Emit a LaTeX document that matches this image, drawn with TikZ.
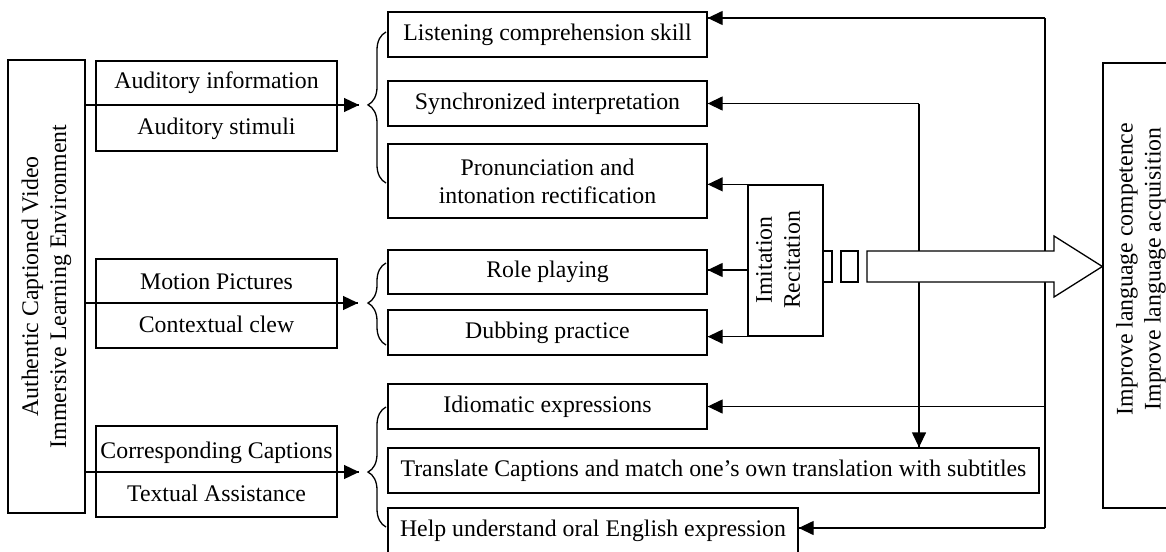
\documentclass[tikz,border=0pt]{standalone}
\usepackage{fontspec}
\setmainfont{Liberation Serif}
\usepackage{tikz}
\usetikzlibrary{calc}
\usetikzlibrary{arrows.meta}
\usetikzlibrary{decorations.markings}
\usetikzlibrary{decorations.pathreplacing}
\newcommand{\dgfont}{\fontsize{23.8}{28}\selectfont}
\tikzset{
  line/.style={line width=1.3pt},
  box/.style={draw, line, fill=white, inner sep=0pt, align=center, font=\dgfont},
  label/.style={inner sep=0pt, align=center, font=\dgfont},
  arr/.style={line, postaction={decorate, decoration={
    markings,
    mark=at position 1 with {\arrow{Triangle[length=15pt,width=14pt]}}}}},
  cbrace/.style={line, decorate, decoration={brace, amplitude=18pt, aspect=#1}},
  cbrace/.default=0.5,
}

\begin{document}
\begin{tikzpicture}[x=1pt,y=-1pt]
\useasboundingbox (0,0) rectangle (1166,551);

%%%%%%%%%%%%%%%%%%%%%%%%%%%%%%%%%%%%%%%%%%%%%%%%%%%%%%%%%%%%%% Source
\node[box, minimum width=77, minimum height=453] (env) at (46.5,286.5) {};
\node[label, rotate=90] (envtext) at (env) {Authentic Captioned Video\\Immersive Learning Environment};

%%%%%%%%%%%%%%%%%%%%%%%%%%%%%%%%%%%%%%%%%%%%%%%%%%%%%%%%%%%%%% Channels
\node[box, minimum width=241, minimum height=90] (aud) at (216.5,106) {Auditory information\\[18pt]Auditory stimuli};
\node[box, minimum width=241, minimum height=89] (mot) at (216.5,303.5) {Motion Pictures\\[15pt]Contextual clew};
\node[box, minimum width=241, minimum height=91] (cap) at (216.5,471.5) {Corresponding Captions\\[15pt]Textual Assistance};

\coordinate (bA) at (359,105);
\coordinate (bM) at (358,303);
\coordinate (bC) at (359,472);
\draw[arr] (env.east |- bA) -- (bA);
\draw[arr] (env.east |- bM) -- (bM);
\draw[arr] (env.east |- bC) -- (bC);

\draw[cbrace=0.517] (386,183) -- (386,32);
\draw[cbrace=0.512] (386,345) -- (386,263);
\draw[cbrace=0.458] (386,527) -- (386,407);

%%%%%%%%%%%%%%%%%%%%%%%%%%%%%%%%%%%%%%%%%%%%%%%%%%%%%%%%%%%%%% Skills
\node[box, minimum width=319, minimum height=45] (lis) at (547.5,34.5) {Listening comprehension skill};
\node[box, minimum width=319, minimum height=45] (syn) at (547.5,103.5) {Synchronized interpretation};
\node[box, minimum width=319, minimum height=74] (pro) at (547.5,181) {Pronunciation and\\intonation rectification};
\node[box, minimum width=319, minimum height=44] (rol) at (547.5,272) {Role playing};
\node[box, minimum width=319, minimum height=45] (dub) at (547.5,332.5) {Dubbing practice};
\node[box, minimum width=319, minimum height=45] (idi) at (547.5,406.5) {Idiomatic expressions};
\node[box, minimum width=651, minimum height=45] (tra) at (713.5,470.5) {Translate Captions and match one’s own translation with subtitles};
\node[box, minimum width=410, minimum height=45] (hel) at (593,530.5) {Help understand oral English expression};

%%%%%%%%%%%%%%%%%%%%%%%%%%%%%%%%%%%%%%%%%%%%%%%%%%%%%%%%%%%%%% Feedback
\node[box, minimum width=75, minimum height=151] (imi) at (785.5,260.5) {};
\node[label, rotate=90] (imitext) at (778,260) {Imitation\\Recitation};

\draw[arr] (imi.north west) -- (imi.north west -| pro.east);
\draw[arr] (imi.west |- 0,270) -- (rol.east |- 0,270);
\draw[arr] (imi.south west) -- (imi.south west -| dub.east);

\coordinate (sC) at (919,103.5);
\draw[arr] (sC) -- (syn.east);
\draw[arr] (sC) -- (sC |- tra.north);

\coordinate (tTop) at (1045,18);
\coordinate (tBot) at (1045,528);
\draw[line] (tTop) -- (tBot);
\draw[arr] (tTop) -- (tTop -| lis.east);
\draw[arr] (tBot |- idi) -- (idi.east);
\draw[arr] (tBot) -- (tBot -| hel.east);

%%%%%%%%%%%%%%%%%%%%%%%%%%%%%%%%%%%%%%%%%%%%%%%%%%%%%%%%%%%%%% Outcome
\node[box, minimum width=82, minimum height=445] (goal) at (1144,285.5) {};
\node[label, rotate=90] (goaltext) at (1141,269) {Improve language competence\\Improve language acquisition};

\node[box, minimum width=9, minimum height=31] (sqA) at (827.5,266.5) {};
\node[box, minimum width=17, minimum height=31] (sqB) at (849.5,266.5) {};
\draw[line, fill=white] (867,251) -- (1054,251) -- (1054,236) -- (goal.west |- sqB)
  -- (1054,297) -- (1054,282) -- (867,282) -- cycle;

\end{tikzpicture}
\end{document}
